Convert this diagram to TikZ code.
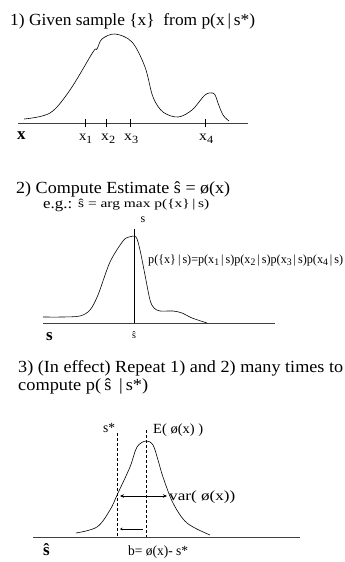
\documentclass[tikz,border=0pt]{standalone}
\usepackage{fontspec}
\usepackage{graphicx}
\setmainfont{Liberation Serif}
\usetikzlibrary{arrows.meta}
\newcommand\fw[2]{\resizebox{#1}{\height}{#2}}
\newcommand\dn[1]{\raisebox{-0.5ex}{\fontsize{11}{11}\selectfont #1}}
\newcommand\dnsm[1]{\raisebox{-0.45ex}{\fontsize{10}{10}\selectfont #1}}
\begin{document}
\begin{tikzpicture}[x=1pt,y=-1pt,
  title/.style={anchor=base west,inner sep=0pt,font=\fontsize{17}{18}\selectfont},
  lbl/.style={anchor=base west,inner sep=0pt,font=\fontsize{14}{15}\selectfont},
  axl/.style={anchor=base west,inner sep=0pt,font=\fontsize{17}{17}\selectfont\bfseries},
  axis/.style={line width=0.8pt,draw=black!75},
  curve/.style={line width=0.6pt},
  dashline/.style={line width=0.6pt,dash pattern=on 3pt off 2pt}]
\useasboundingbox (0,0) rectangle (345,562);
% ---------- section 1 ----------
\node[title] (t1) at (10,25) {\fw{245pt}{1) Given sample \{x\}\ \ from p(x\,|\,s*)}};
\coordinate (a1l) at (18,123);
\coordinate (a1r) at (248,123);
\draw[axis] (a1l) -- (a1r);
\draw[curve] plot[smooth,tension=0.55] coordinates {(24,119) (50,113) (70,90) (93,52) (97,49) (102,39) (115,34) (132,42) (145,67) (153,97) (163,112) (178,117) (192,110) (205,95) (213,93) (216,97) (218,103) (223,115) (229,121)};
\foreach \n/\xx in {1/85,2/106,3/130,4/205}{
  \coordinate (tk\n) at (\xx,123);
  \draw[line width=0.6pt] ([yshift=-4pt]tk\n) -- ([yshift=4pt]tk\n);
}
\node[axl] (X) at (17,139) {x};
\node[lbl] (x1) at (79,140) {\fw{13pt}{x\dn{1}}};
\node[lbl] (x2) at (101,140) {\fw{14pt}{x\dn{2}}};
\node[lbl] (x3) at (124,140) {\fw{14pt}{x\dn{3}}};
\node[lbl] (x4) at (199,140) {\fw{14pt}{x\dn{4}}};
% ---------- section 2 ----------
\node[title] (t2) at (16,193) {\fw{214pt}{2) Compute Estimate \^{s} = ø(x)}};
\node[title,font=\fontsize{15}{16}\selectfont] (eg) at (43,208.5) {\fw{29pt}{e.g.:}};
\node[lbl,font=\fontsize{12}{13}\selectfont] (argmax) at (78,207.5) {\fw{131pt}{\^{s} = arg max p(\{x\}\,|\,s)}};
\node[lbl,anchor=base,font=\fontsize{12}{12}\selectfont] (sub) at (143,222) {s};
\coordinate (a2l) at (43,323);
\coordinate (a2r) at (275,323);
\draw[axis] (a2l) -- (a2r);
\coordinate (vt) at (134,229);
\coordinate (vb) at (134,323);
\draw[line width=0.6pt] (vt) -- (vb);
\draw[curve] plot[smooth,tension=0.5] coordinates {(43,317) (62,317) (80,316) (90,310) (98,295) (110,262) (123,241) (129,237) (136,237) (140,250) (145,275) (150,300) (154,308) (160,311) (173,311) (182,313) (192,318) (207,323)};
\node[axl] (S) at (46,340) {s};
\node[lbl,anchor=base,font=\fontsize{10}{10}\selectfont] (shat) at (134,338) {\^{s}};
\node[lbl,font=\fontsize{12.5}{13}\selectfont] (lik) at (148,263) {\fw{195pt}{p(\{x\}\,|\,s)=p(x\dnsm{1}\,|\,s)p(x\dnsm{2}\,|\,s)p(x\dnsm{3}\,|\,s)p(x\dnsm{4}\,|\,s)}};
% ---------- section 3 ----------
\node[title] (t3) at (18,372) {\fw{325pt}{3) (In effect) Repeat 1) and 2) many times to}};
\node[title] (t3b) at (18,390) {\fw{130pt}{compute p(\,\^{s}\ \,|\,s*)}};
\coordinate (a3l) at (33,537);
\coordinate (a3r) at (300,537);
\draw[axis] (a3l) -- (a3r);
\draw[curve] plot[smooth,tension=0.55] coordinates {(76,533) (97,527) (110,510) (118,493) (130,467) (137,447) (146,441) (153,445) (158,460) (163,477) (173,503) (187,523) (210,535)};
\coordinate (st) at (117,433);
\coordinate (sb) at (117,537);
\coordinate (et) at (146,430);
\coordinate (eb) at (146,537);
\draw[dashline] (st) -- (sb);
\draw[dashline] (et) -- (eb);
\node[lbl] (sstar) at (103,432) {\fw{12pt}{s*}};
\node[lbl] (E) at (153,433) {\fw{50pt}{E( ø(x) )}};
\coordinate (vl) at (120,496);
\coordinate (vr) at (167,496);
\draw[line width=0.6pt,{Stealth[length=4pt,width=3.5pt]}-{Stealth[length=4pt,width=3.5pt]}] (vl) -- (vr);
\node[lbl] (var) at (169,500) {\fw{66pt}{var( ø(x))}};
\coordinate (bl) at (120,529);
\coordinate (br) at (143,529);
\draw[line width=0.6pt,{Stealth[length=2.5pt,width=2.5pt]}-] (bl) -- (br);
\node[axl] (Shat) at (43,555) {\^{s}};
\node[lbl] (b) at (128,555) {\fw{60pt}{b= ø(x)- s*}};
\end{tikzpicture}
\end{document}
